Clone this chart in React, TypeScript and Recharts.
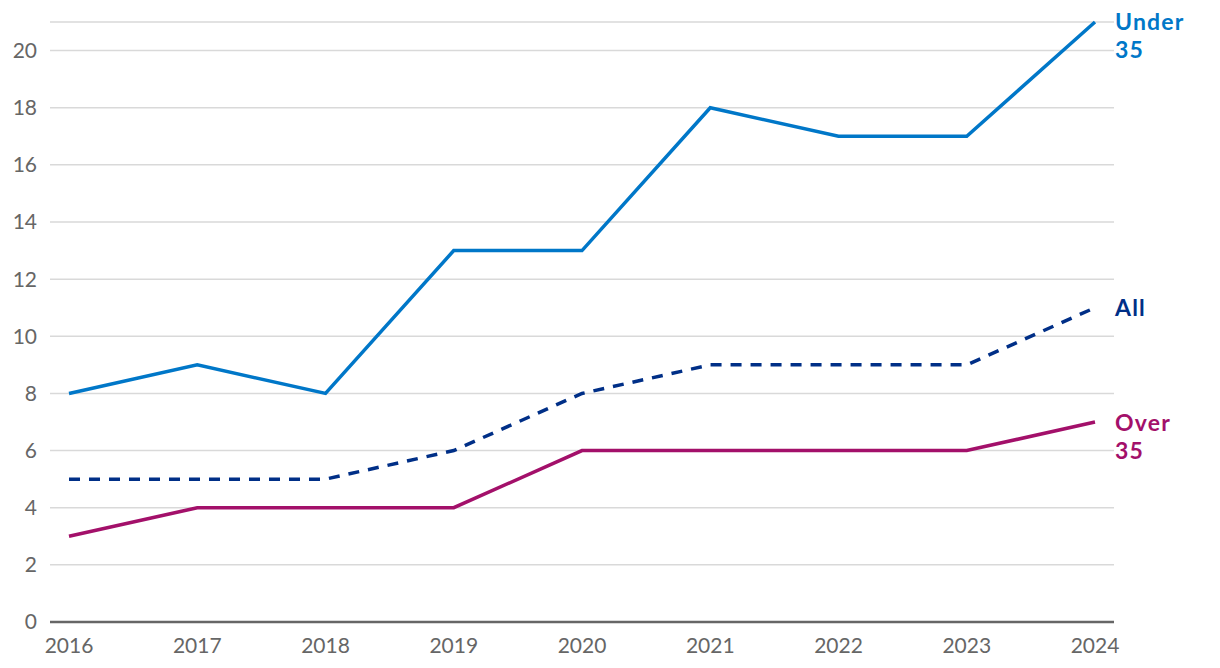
import { CartesianGrid, LabelList, Line, LineChart, XAxis, YAxis } from 'recharts'

const years = ['2016', '2017', '2018', '2019', '2020', '2021', '2022', '2023', '2024']
const under35 = [8, 9, 8, 13, 13, 18, 17, 17, 21]
const all = [5, 5, 5, 6, 8, 9, 9, 9, 11]
const over35 = [3, 4, 4, 4, 6, 6, 6, 6, 7]
const yTicks = [0, 2, 4, 6, 8, 10, 12, 14, 16, 18, 20]

const data = years.map((year, i) => ({
  year,
  under35: under35[i],
  all: all[i],
  over35: over35[i],
}))

const font = 'Lato, "Open Sans", sans-serif'

// series name drawn next to the last point, one <text> per line
function endLabel(lines: string[], color: string, dy: number) {
  return (props: any) => {
    const { x, y, index } = props
    if (index !== years.length - 1) return null
    return (
      <g>
        {lines.map((t, i) => (
          <text
            key={i}
            x={x + 20}
            y={y + dy + i * 28}
            fill={color}
            fontFamily={font}
            fontSize={23}
            fontWeight={700}
            letterSpacing={1.2}
          >
            {t}
          </text>
        ))}
      </g>
    )
  }
}

export default function App() {
  return (
    <div style={{ position: 'absolute', top: 0, left: 0, background: '#fff' }}>
      <LineChart width={1220} height={668} data={data} margin={{ top: 22, right: 106, left: 0, bottom: 16 }}>
        <CartesianGrid vertical={false} stroke="#d9d9d9" strokeWidth={1.5} />
        <XAxis
          dataKey="year"
          padding={{ left: 19, right: 19 }}
          axisLine={{ stroke: '#666', strokeWidth: 2.5 }}
          tickLine={false}
          tickSize={0}
          tickMargin={16}
          height={30}
          tick={{ fill: '#666', fontSize: 21, fontFamily: font }}
          interval={0}
        />
        <YAxis
          domain={[0, 21]}
          ticks={yTicks}
          width={50}
          axisLine={false}
          tickLine={false}
          tickSize={0}
          tickMargin={13}
          tick={{ fill: '#666', fontSize: 21, fontFamily: font }}
        />
        <Line
          type="linear"
          dataKey="under35"
          stroke="#0077C8"
          strokeWidth={3.5}
          dot={false}
          isAnimationActive={false}
        >
          <LabelList dataKey="under35" content={endLabel(['Under', '35'], '#0077C8', 8)} />
        </Line>
        <Line
          type="linear"
          dataKey="all"
          stroke="#002F87"
          strokeWidth={3.5}
          strokeDasharray="11 9"
          dot={false}
          isAnimationActive={false}
        >
          <LabelList dataKey="all" content={endLabel(['All'], '#002F87', 8)} />
        </Line>
        <Line
          type="linear"
          dataKey="over35"
          stroke="#A3106A"
          strokeWidth={3.5}
          dot={false}
          isAnimationActive={false}
        >
          <LabelList dataKey="over35" content={endLabel(['Over', '35'], '#A3106A', 9)} />
        </Line>
      </LineChart>
    </div>
  )
}
